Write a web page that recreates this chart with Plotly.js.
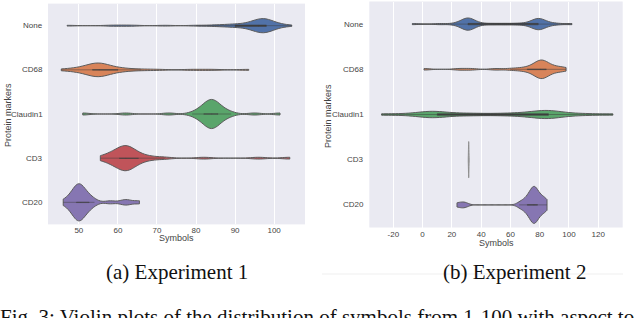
<!DOCTYPE html>
<html>
<head>
<meta charset="utf-8">
<script src="https://cdn.plot.ly/plotly-3.0.1.min.js"></script>
<style>html,body{margin:0;padding:0;background:#fff;}#chart{width:640px;height:318px;}</style>
</head>
<body>
<div id="chart"></div>
<script>
// Categories (top to bottom)
const categories = ["None", "CD68", "Claudin1", "CD3", "CD20"];

// Experiment 1 samples (symbols)
const exp1None = [47, 58, 61, 64, 72, 80, 84, 86, 88, 89, 90, 91, 92, 93, 94, 94, 95, 95, 95, 96, 96, 96, 96, 97, 97, 97, 97, 97, 97, 98, 98, 98, 98, 98, 99, 99, 99, 100, 100, 101, 102, 104.5];
const exp1CD68 = [45.5, 48, 49.5, 51, 51.5, 52, 53, 53.5, 54, 54, 54.5, 55, 55, 55, 55, 55.5, 56, 56, 56.5, 57, 58, 59, 60, 61, 63, 66, 70, 79, 84, 93.5];
const exp1Claudin1 = [51, 62, 73, 79, 80.5, 81, 82, 82, 82.5, 83, 83, 83, 83.5, 84, 84, 84, 84, 84.5, 85, 85, 85, 85.5, 86, 86, 87, 88, 89, 95, 101.5];
const exp1CD3 = [55.5, 57, 58, 58.5, 59, 60, 60, 60.5, 61, 61, 61.5, 62, 62, 62, 62, 62.5, 63, 63, 63.5, 64, 64, 65, 66, 67, 69, 72, 82, 96, 104];
const exp1CD20 = [46, 47.5, 48, 48.5, 49, 49, 49.5, 49.5, 50, 50, 50, 50, 50.5, 50.5, 51, 51, 51.5, 52, 52.5, 53, 54, 58, 61.5, 62.5, 65.5];

// Experiment 2 samples (symbols)
const exp2None = [-7, 12, 22, 26, 28, 29, 30, 30, 31, 31, 31, 32, 32, 33, 34, 36, 40, 48, 56, 64, 70, 74, 76, 77, 78, 79, 79, 79, 80, 80, 81, 82, 84, 87, 92, 102];
const exp2CD68 = [1, 25, 33, 50, 60, 66, 70, 73, 75, 77, 78, 79, 80, 80, 81, 81, 81, 82, 82, 83, 84, 85, 86, 88, 90, 93, 95, 98];
const exp2Claudin1 = [-28, -15, -5, 0, 3, 5, 8, 10, 14, 18, 25, 32, 40, 50, 58, 65, 70, 74, 78, 80, 82, 85, 86, 88, 90, 94, 98, 105, 115, 130];
const exp2CD3 = [31.5, 31.5, 31.5, 31.5];
const exp2CD20 = [23.5, 27, 29.5, 66, 68, 70, 71, 72, 73, 74, 74, 75, 75, 76, 76, 76, 76.5, 77, 77, 78, 78, 79, 80, 81, 82, 83, 84, 85];

const exp1Ticks = [50, 60, 70, 80, 90, 100];
const exp2Ticks = [-20, 0, 20, 40, 60, 80, 100, 120];

const colors = {None: "#5172a8", CD68: "#d8845a", Claudin1: "#5aa56b", CD3: "#c0545a", CD20: "#8676b2"};
const outline = "#5c5c5c";
const boxColor = "#3f3f3f";

function violin(xs, cat, xa, ya, opts) {
  return {
    type: "violin", orientation: "h", x: xs, y0: cat, name: cat,
    xaxis: xa, yaxis: ya, points: false, side: "both",
    spanmode: opts.span || "hard", bandwidth: opts.bw, width: opts.w,
    scalemode: "width", fillcolor: opts.fill || colors[cat],
    line: {color: opts.line || outline, width: 1},
    box: {visible: opts.box !== undefined, width: opts.box || 0.1, fillcolor: boxColor, line: {color: boxColor, width: 0.5}},
    meanline: {visible: false}, opacity: 1, hoverinfo: "skip", showlegend: false
  };
}

const data = [
  violin(exp1None, "None", "x", "y", {bw: 2.0, w: 0.32, box: 0.1}),
  violin(exp1CD68, "CD68", "x", "y", {bw: 2.4, w: 0.31, box: 0.05}),
  violin(exp1Claudin1, "Claudin1", "x", "y", {bw: 1.6, w: 0.66, box: 0.02}),
  violin(exp1CD3, "CD3", "x", "y", {bw: 1.9, w: 0.57, box: 0.02}),
  violin(exp1CD20, "CD20", "x", "y", {bw: 1.3, w: 0.84, box: 0.015}),
  violin(exp2None, "None", "x2", "y2", {bw: 4, w: 0.27, box: 0.12}),
  violin(exp2CD68, "CD68", "x2", "y2", {bw: 4, w: 0.41, box: 0.04}),
  violin(exp2Claudin1, "Claudin1", "x2", "y2", {bw: 7, w: 0.18, box: 0.2}),
  violin(exp2CD3, "CD3", "x2", "y2", {bw: 0.15, w: 0.8, span: "soft", fill: "#9a9a9a", line: "#8f8f8f"}),
  violin(exp2CD20, "CD20", "x2", "y2", {bw: 2.4, w: 0.82, box: 0.015})
];

function tickFont() { return {family: "Liberation Sans, Arial, sans-serif", size: 8, color: "#444444"}; }
function titleFont() { return {family: "Liberation Sans, Arial, sans-serif", size: 9, color: "#444444"}; }
function serif() { return {family: "Liberation Serif, Times New Roman, serif", size: 21, color: "#111111"}; }

function xAxis(dom, rng, ticks, anchor) {
  return {domain: dom, range: rng, anchor: anchor, tickvals: ticks, ticktext: ticks.map(String),
    showgrid: true, gridcolor: "#ffffff", gridwidth: 1, zeroline: false, showline: false,
    ticks: "", tickfont: tickFont(), color: "#444444", fixedrange: true};
}
function yAxis(dom, anchor) {
  return {domain: dom, anchor: anchor, type: "category", categoryorder: "array", categoryarray: categories,
    range: [4.5, -0.5], showgrid: false, zeroline: false, showline: false, ticks: "",
    showticklabels: false, fixedrange: true};
}

const annotations = [
  {text: "Symbols", xref: "paper", yref: "paper", x: 176 / 640, y: (318 - 238) / 318, showarrow: false, font: titleFont(), xanchor: "center", yanchor: "middle"},
  {text: "Protein markers", xref: "paper", yref: "paper", x: 8 / 640, y: (318 - 115) / 318, showarrow: false, font: titleFont(), textangle: -90, xanchor: "center", yanchor: "middle"},
  {text: "Symbols", xref: "paper", yref: "paper", x: 496 / 640, y: (318 - 243) / 318, showarrow: false, font: titleFont(), xanchor: "center", yanchor: "middle"},
  {text: "Protein markers", xref: "paper", yref: "paper", x: 328 / 640, y: (318 - 116) / 318, showarrow: false, font: titleFont(), textangle: -90, xanchor: "center", yanchor: "middle"},
  {text: "(a) Experiment 1", xref: "paper", yref: "paper", x: 177 / 640, y: (318 - 272) / 318, showarrow: false, font: serif(), xanchor: "center", yanchor: "middle"},
  {text: "(b) Experiment 2", xref: "paper", yref: "paper", x: 514 / 640, y: (318 - 272) / 318, showarrow: false, font: serif(), xanchor: "center", yanchor: "middle"},
  {text: "Fig. 3: Violin plots of the distribution of symbols from 1-100 with aspect to", xref: "paper", yref: "paper", x: -2 / 640, y: (318 - 303) / 318, showarrow: false, font: serif(), xanchor: "left", yanchor: "top"}
];
// category tick labels for both panels
categories.forEach(function (c) {
  annotations.push({text: c, xref: "paper", yref: "y", x: 45 / 640, y: c, showarrow: false, font: tickFont(), xanchor: "right", yanchor: "middle"});
  annotations.push({text: c, xref: "paper", yref: "y2", x: 366 / 640, y: c, showarrow: false, font: tickFont(), xanchor: "right", yanchor: "middle"});
});

const layout = {
  width: 640, height: 318, margin: {l: 0, r: 0, t: 0, b: 0},
  paper_bgcolor: "#ffffff", plot_bgcolor: "#eaeaf2",
  violinmode: "overlay",
  xaxis: xAxis([48 / 640, 305 / 640], [42.1, 107.9], exp1Ticks, "y"),
  yaxis: yAxis([(318 - 224.4) / 318, (318 - 3.6) / 318], "x"),
  xaxis2: xAxis([369.3 / 640, 622.7 / 640], [-36.4, 136.7], exp2Ticks, "y2"),
  yaxis2: yAxis([(318 - 227.5) / 318, (318 - 1.5) / 318], "x2"),
  shapes: [
    {type: "line", xref: "paper", yref: "paper", x0: 322 / 640, x1: 623 / 640, y0: (318 - 274) / 318, y1: (318 - 274) / 318,
     line: {color: "#efefef", width: 1}, layer: "below"}
  ],
  annotations: annotations
};

Plotly.newPlot("chart", data, layout, {staticPlot: true, displayModeBar: false});
</script>
</body>
</html>
